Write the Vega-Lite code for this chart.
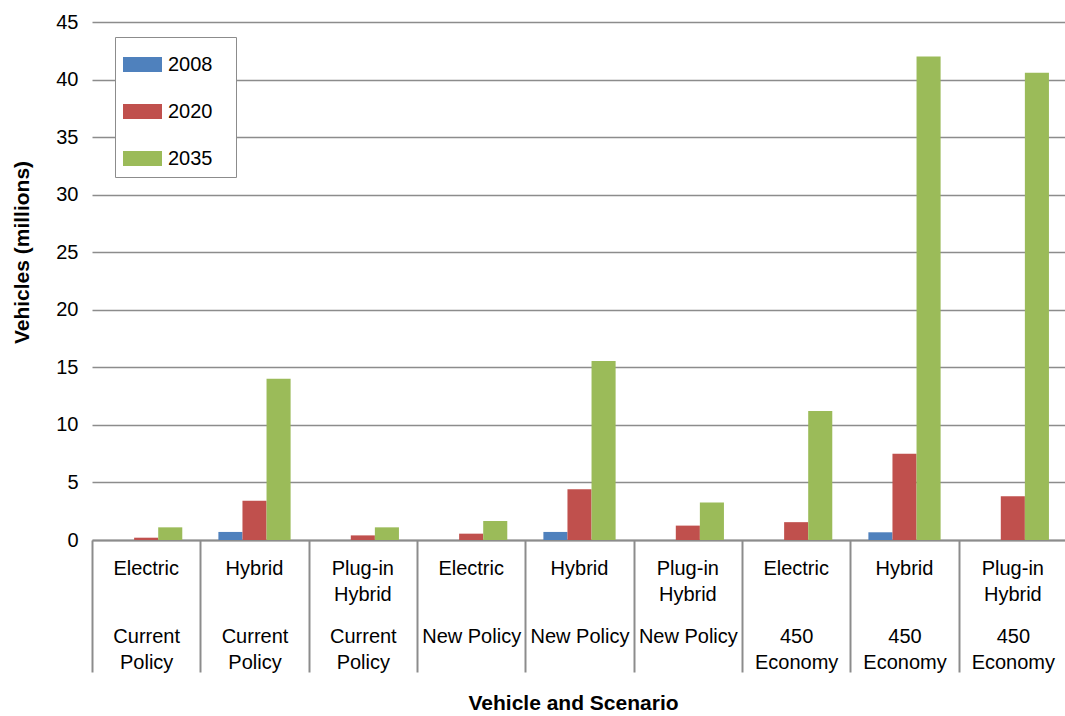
{
  "$schema": "https://vega.github.io/schema/vega-lite/v6.json",
  "autosize": "none",
  "width": 975,
  "height": 518,
  "padding": {"left": 92, "top": 22, "right": 0, "bottom": 176},
  "background": "white",
  "config": {
    "font": "Liberation Sans",
    "view": {"stroke": null},
    "axis": {"labelFont": "Liberation Sans", "labelFontSize": 20, "labelColor": "#000", "titleFont": "Liberation Sans", "titleColor": "#000"}
  },
  "data": {
    "values": [
      {"group": "Electric|Current Policy", "year": "2008", "value": 0},
      {"group": "Electric|Current Policy", "year": "2020", "value": 0.2},
      {"group": "Electric|Current Policy", "year": "2035", "value": 1.1},
      {"group": "Hybrid|Current Policy", "year": "2008", "value": 0.7},
      {"group": "Hybrid|Current Policy", "year": "2020", "value": 3.4},
      {"group": "Hybrid|Current Policy", "year": "2035", "value": 14},
      {"group": "Plug-in Hybrid|Current Policy", "year": "2008", "value": 0},
      {"group": "Plug-in Hybrid|Current Policy", "year": "2020", "value": 0.4},
      {"group": "Plug-in Hybrid|Current Policy", "year": "2035", "value": 1.1},
      {"group": "Electric|New Policy", "year": "2008", "value": 0},
      {"group": "Electric|New Policy", "year": "2020", "value": 0.55},
      {"group": "Electric|New Policy", "year": "2035", "value": 1.65},
      {"group": "Hybrid|New Policy", "year": "2008", "value": 0.7},
      {"group": "Hybrid|New Policy", "year": "2020", "value": 4.4},
      {"group": "Hybrid|New Policy", "year": "2035", "value": 15.55},
      {"group": "Plug-in Hybrid|New Policy", "year": "2008", "value": 0},
      {"group": "Plug-in Hybrid|New Policy", "year": "2020", "value": 1.25},
      {"group": "Plug-in Hybrid|New Policy", "year": "2035", "value": 3.25},
      {"group": "Electric|450 Economy", "year": "2008", "value": 0},
      {"group": "Electric|450 Economy", "year": "2020", "value": 1.55},
      {"group": "Electric|450 Economy", "year": "2035", "value": 11.2},
      {"group": "Hybrid|450 Economy", "year": "2008", "value": 0.67},
      {"group": "Hybrid|450 Economy", "year": "2020", "value": 7.5},
      {"group": "Hybrid|450 Economy", "year": "2035", "value": 42},
      {"group": "Plug-in Hybrid|450 Economy", "year": "2008", "value": 0},
      {"group": "Plug-in Hybrid|450 Economy", "year": "2020", "value": 3.8},
      {"group": "Plug-in Hybrid|450 Economy", "year": "2035", "value": 40.6}
    ]
  },
  "layer": [
    {
      "mark": {"type": "bar"},
      "encoding": {
        "x": {
          "field": "group",
          "type": "nominal",
          "sort": null,
          "scale": {"paddingInner": 0, "paddingOuter": 0},
          "axis": {
            "orient": "bottom",
            "title": "Vehicle and Scenario",
            "titleFontSize": 21,
            "titleFontWeight": "bold",
            "titleX": 481,
            "titleY": 163,
            "titleAlign": "center",
            "titleBaseline": "middle",
            "labelAngle": 0,
            "labelExpr": "isValid(datum.value) ? split(split(datum.value, '|')[0], ' ') : ''",
            "labelBaseline": "top",
            "labelLineHeight": 26,
            "labelPadding": 18,
            "ticks": false,
            "domain": true,
            "domainColor": "#8c8c8c",
            "domainWidth": 2,
            "grid": false
          }
        },
        "xOffset": {"field": "year", "type": "nominal", "scale": {"paddingInner": 0, "paddingOuter": 0.75}},
        "y": {
          "field": "value",
          "type": "quantitative",
          "scale": {"domain": [0, 45], "nice": false},
          "axis": {
            "title": "Vehicles (millions)",
            "titleFontSize": 21,
            "titleFontWeight": "bold",
            "titleX": -70,
            "titleY": 230,
            "titleAngle": -90,
            "titleAlign": "center",
            "titleBaseline": "middle",
            "values": [0, 5, 10, 15, 20, 25, 30, 35, 40, 45],
            "grid": true,
            "gridColor": "#8c8c8c",
            "gridWidth": 1.5,
            "domain": false,
            "ticks": false,
            "labelPadding": 14
          }
        },
        "color": {
          "field": "year",
          "type": "nominal",
          "scale": {"domain": ["2008", "2020", "2035"], "range": ["#4f81bd", "#c0504d", "#9bbb59"]},
          "legend": {
            "title": null,
            "orient": "none",
            "legendX": 23,
            "legendY": 15,
            "padding": 8,
            "strokeColor": "#8c8c8c",
            "fillColor": "white",
            "symbolType": "M-1,-0.385H1V0.385H-1Z",
            "symbolSize": 1521,
            "symbolStrokeWidth": 0,
            "symbolOpacity": 1,
            "labelFontSize": 20,
            "labelFont": "Liberation Sans",
            "labelColor": "#000",
            "labelOffset": 6,
            "labelExpr": "datum.label + '\u2800'",
            "rowPadding": 17
          }
        }
      }
    },
    {
      "mark": {"type": "rule", "opacity": 0},
      "encoding": {
        "x": {
          "field": "group",
          "type": "nominal",
          "sort": null,
          "axis": {
            "orient": "bottom",
            "title": null,
            "labelAngle": 0,
            "labelExpr": "isValid(datum.value) ? (split(datum.value, '|')[1] == 'New Policy' ? 'New Policy' : split(split(datum.value, '|')[1], ' ')) : ''",
            "labelBaseline": "top",
            "labelLineHeight": 26,
            "labelPadding": -46,
            "ticks": true,
            "tickBand": "extent",
            "tickSize": 132,
            "tickColor": "#8c8c8c",
            "tickWidth": 2,
            "domain": false,
            "grid": false
          }
        }
      }
    }
  ],
  "resolve": {"axis": {"x": "independent"}}
}
